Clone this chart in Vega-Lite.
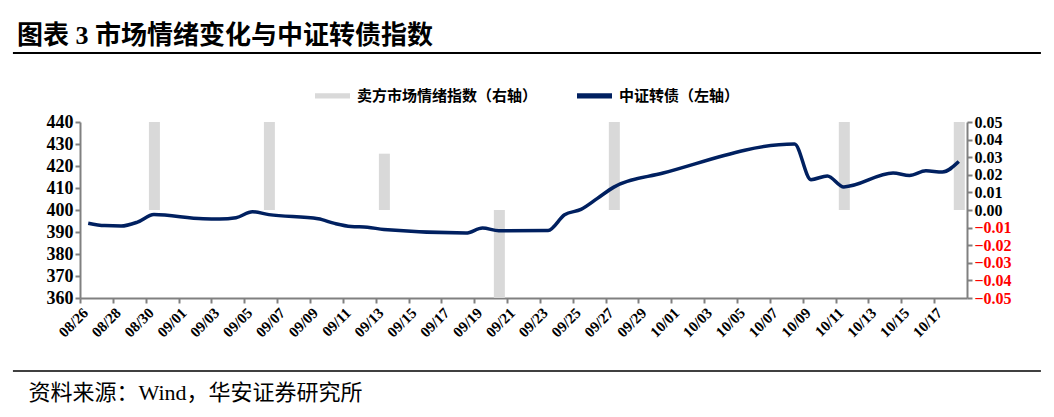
{
  "$schema": "https://vega.github.io/schema/vega-lite/v6.json",
  "width": 887,
  "height": 176,
  "autosize": {"type": "none"},
  "padding": {"left": 80, "top": 122, "right": 87, "bottom": 119},
  "background": "white",
  "title": {
    "text": "图表 3 市场情绪变化与中证转债指数",
    "anchor": "start",
    "frame": "group",
    "dx": -63,
    "dy": -3,
    "offset": 0,
    "font": "Liberation Serif, Noto Sans CJK SC",
    "fontSize": 26,
    "fontWeight": "bold",
    "color": "black"
  },
  "datasets": {
    "sentiment": [
      {"date": "2024-08-30", "value": 0.05},
      {"date": "2024-09-06", "value": 0.05},
      {"date": "2024-09-13", "value": 0.032},
      {"date": "2024-09-20", "value": -0.05},
      {"date": "2024-09-27", "value": 0.05},
      {"date": "2024-10-11", "value": 0.05},
      {"date": "2024-10-18", "value": 0.05}
    ],
    "index": [
      {"date": "2024-08-26", "value": 394.0},
      {"date": "2024-08-27", "value": 392.9},
      {"date": "2024-08-28", "value": 392.7},
      {"date": "2024-08-29", "value": 394.5},
      {"date": "2024-08-30", "value": 397.9},
      {"date": "2024-09-02", "value": 396.0},
      {"date": "2024-09-03", "value": 395.9},
      {"date": "2024-09-04", "value": 396.5},
      {"date": "2024-09-05", "value": 399.2},
      {"date": "2024-09-06", "value": 397.9},
      {"date": "2024-09-09", "value": 396.0},
      {"date": "2024-09-10", "value": 393.9},
      {"date": "2024-09-11", "value": 392.5},
      {"date": "2024-09-12", "value": 392.2},
      {"date": "2024-09-13", "value": 391.1},
      {"date": "2024-09-18", "value": 389.5},
      {"date": "2024-09-19", "value": 391.8},
      {"date": "2024-09-20", "value": 390.6},
      {"date": "2024-09-23", "value": 390.7},
      {"date": "2024-09-24", "value": 397.8},
      {"date": "2024-09-25", "value": 400.3},
      {"date": "2024-09-26", "value": 405.3},
      {"date": "2024-09-27", "value": 410.4},
      {"date": "2024-09-30", "value": 416.8},
      {"date": "2024-10-08", "value": 430.0},
      {"date": "2024-10-09", "value": 413.8},
      {"date": "2024-10-10", "value": 415.5},
      {"date": "2024-10-11", "value": 410.5},
      {"date": "2024-10-14", "value": 416.8},
      {"date": "2024-10-15", "value": 415.7},
      {"date": "2024-10-16", "value": 417.8},
      {"date": "2024-10-17", "value": 417.3},
      {"date": "2024-10-18", "value": 422.0}
    ]
  },
  "layer": [
    {
      "data": {"name": "sentiment"},
      "mark": {"type": "bar", "width": {"band": 0.73}},
      "encoding": {
        "x": {
          "field": "date",
          "type": "temporal",
          "timeUnit": "utcyearmonthdate",
          "scale": {
            "type": "utc",
            "domain": [
              {"year": 2024, "month": 8, "date": 26, "utc": true},
              {"year": 2024, "month": 10, "date": 19, "utc": true}
            ]
          }
        },
        "y": {
          "field": "value",
          "type": "quantitative",
          "scale": {"domain": [-0.05, 0.05], "nice": false},
          "axis": {
            "orient": "right",
            "values": [-0.05, -0.04, -0.03, -0.02, -0.01, 0, 0.01, 0.02, 0.03, 0.04, 0.05],
            "tickCount": 20,
            "format": ".2f",
            "labelFontSize": 16,
            "labelColor": {"condition": {"test": "datum.value < 0", "value": "#ff0000"}, "value": "black"},
            "title": null
          }
        },
        "color": {
          "datum": "卖方市场情绪指数（右轴）",
          "type": "nominal",
          "scale": {
            "domain": ["卖方市场情绪指数（右轴）", "中证转债（左轴）"],
            "range": ["#d9d9d9", "#002060"]
          },
          "legend": {
            "orient": "none",
            "legendX": 235,
            "legendY": -44,
            "direction": "horizontal",
            "title": null,
            "padding": 0,
            "symbolType": "M-1,-0.15H1V0.15H-1Z",
            "symbolSize": 1225,
            "symbolStrokeWidth": 0,
            "symbolOpacity": 1,
            "labelFont": "Noto Sans CJK SC",
            "labelFontSize": 15,
            "labelFontWeight": "bold",
            "labelColor": "black",
            "labelLimit": 400,
            "labelOffset": 7,
            "columnPadding": 39,
            "encode": {
              "symbols": {
                "update": {
                  "fill": {"scale": "color", "field": "value"},
                  "stroke": {"value": "transparent"}
                }
              }
            }
          }
        }
      }
    },
    {
      "data": {"name": "index"},
      "mark": {"type": "line", "strokeWidth": 3.5, "interpolate": "monotone"},
      "encoding": {
        "x": {
          "field": "date",
          "type": "temporal",
          "timeUnit": "utcyearmonthdate",
          "bandPosition": 0.5,
          "axis": {
            "values": [
              {"year": 2024, "month": 8, "date": 26, "utc": true},
              {"year": 2024, "month": 8, "date": 28, "utc": true},
              {"year": 2024, "month": 8, "date": 30, "utc": true},
              {"year": 2024, "month": 9, "date": 1, "utc": true},
              {"year": 2024, "month": 9, "date": 3, "utc": true},
              {"year": 2024, "month": 9, "date": 5, "utc": true},
              {"year": 2024, "month": 9, "date": 7, "utc": true},
              {"year": 2024, "month": 9, "date": 9, "utc": true},
              {"year": 2024, "month": 9, "date": 11, "utc": true},
              {"year": 2024, "month": 9, "date": 13, "utc": true},
              {"year": 2024, "month": 9, "date": 15, "utc": true},
              {"year": 2024, "month": 9, "date": 17, "utc": true},
              {"year": 2024, "month": 9, "date": 19, "utc": true},
              {"year": 2024, "month": 9, "date": 21, "utc": true},
              {"year": 2024, "month": 9, "date": 23, "utc": true},
              {"year": 2024, "month": 9, "date": 25, "utc": true},
              {"year": 2024, "month": 9, "date": 27, "utc": true},
              {"year": 2024, "month": 9, "date": 29, "utc": true},
              {"year": 2024, "month": 10, "date": 1, "utc": true},
              {"year": 2024, "month": 10, "date": 3, "utc": true},
              {"year": 2024, "month": 10, "date": 5, "utc": true},
              {"year": 2024, "month": 10, "date": 7, "utc": true},
              {"year": 2024, "month": 10, "date": 9, "utc": true},
              {"year": 2024, "month": 10, "date": 11, "utc": true},
              {"year": 2024, "month": 10, "date": 13, "utc": true},
              {"year": 2024, "month": 10, "date": 15, "utc": true},
              {"year": 2024, "month": 10, "date": 17, "utc": true}
            ],
            "tickCount": 40,
            "format": "%m/%d",
            "labelAngle": -45,
            "labelAlign": "right",
            "labelBaseline": "top",
            "labelFontSize": 15,
            "labelPadding": 2,
            "labelOverlap": false,
            "labelSeparation": 0,
            "labelBound": false,
            "title": "资料来源：Wind，华安证券研究所",
            "titleX": -52,
            "titleY": 94,
            "titleAlign": "left",
            "titleBaseline": "middle",
            "titleFont": "Liberation Serif, Noto Sans CJK SC",
            "titleFontSize": 22,
            "titleFontWeight": "normal",
            "titleColor": "black"
          }
        },
        "y": {
          "field": "value",
          "type": "quantitative",
          "scale": {"domain": [360, 440], "nice": false, "zero": false},
          "axis": {
            "orient": "left",
            "values": [360, 370, 380, 390, 400, 410, 420, 430, 440],
            "tickCount": 20,
            "format": "d",
            "labelFontSize": 18,
            "title": null
          }
        },
        "color": {"datum": "中证转债（左轴）", "type": "nominal"}
      }
    },
    {
      "data": {"values": [{}]},
      "mark": {"type": "rule", "strokeWidth": 2, "color": "black", "clip": false},
      "encoding": {
        "x": {"datum": {"year": 2024, "month": 8, "date": 21, "hours": 22, "utc": true}, "type": "temporal"},
        "x2": {"datum": {"year": 2024, "month": 10, "date": 23, "hours": 12, "utc": true}},
        "y": {"datum": 471.36, "type": "quantitative", "scale": {"domain": [360, 440], "nice": false, "zero": false}, "axis": null}
      }
    },
    {
      "data": {"values": [{}]},
      "mark": {"type": "rule", "strokeWidth": 1.5, "color": "black", "clip": false},
      "encoding": {
        "x": {"datum": {"year": 2024, "month": 8, "date": 21, "hours": 22, "utc": true}, "type": "temporal"},
        "x2": {"datum": {"year": 2024, "month": 10, "date": 23, "hours": 12, "utc": true}},
        "y": {"datum": 326.82, "type": "quantitative", "scale": {"domain": [360, 440], "nice": false, "zero": false}, "axis": null}
      }
    }
  ],
  "resolve": {"scale": {"y": "independent"}},
  "config": {
    "view": {"stroke": null},
    "axis": {
      "grid": false,
      "domainColor": "#808080",
      "domainWidth": 2,
      "tickColor": "#808080",
      "tickWidth": 2,
      "tickSize": 5,
      "labelFont": "Liberation Serif",
      "labelFontWeight": "bold",
      "labelColor": "black",
      "labelOverlap": false
    },
    "axisX": {"labelOverlap": false}
  }
}
